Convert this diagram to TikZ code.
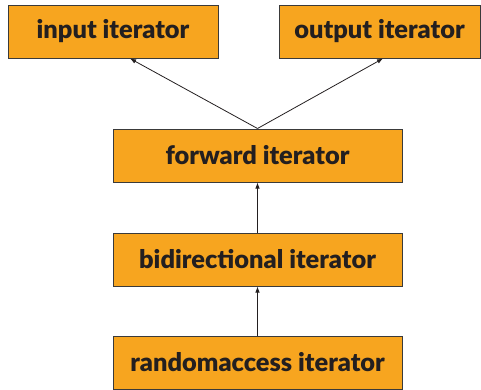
\documentclass[tikz,border=0pt]{standalone}
\usepackage{fontspec}
\setmainfont{Lato}[BoldFont={Lato Black}]
\usetikzlibrary{arrows.meta}
\definecolor{boxfill}{HTML}{F7A51F}
\definecolor{boxline}{HTML}{3A3A3A}
\definecolor{txt}{HTML}{231F20}
\tikzset{
  itbox/.style={draw=boxline, line width=1pt, fill=boxfill, inner sep=0pt,
    minimum height=53pt, text=txt, font=\fontsize{25.4}{29}\selectfont\bfseries},
  conn/.style={-{Latex[length=6pt,width=4.5pt]}, line width=0.8pt, draw=txt}
}
\begin{document}
\begin{tikzpicture}[x=1pt,y=-1pt]
\useasboundingbox (0,0) rectangle (481,389);
\node[itbox, minimum width=210pt] (in) at (113,31.5) {input iterator};
\node[itbox, minimum width=201pt] (out) at (379.5,31.5) {output iterator};
\node[itbox, minimum width=289pt] (fw) at (257.5,155.5) {forward iterator};
\node[itbox, minimum width=289pt] (bi) at (257.5,259.5) {bidirectional iterator};
\node[itbox, minimum width=289pt] (ra) at (257.5,362.5) {randomaccess iterator};
\draw[conn] (fw.north) -- ([xshift=17pt]in.south);
\draw[conn] (fw.north) -- ([xshift=3.5pt]out.south);
\draw[conn] (bi.north) -- (fw.south);
\draw[conn] (ra.north) -- (bi.south);
\end{tikzpicture}
\end{document}
